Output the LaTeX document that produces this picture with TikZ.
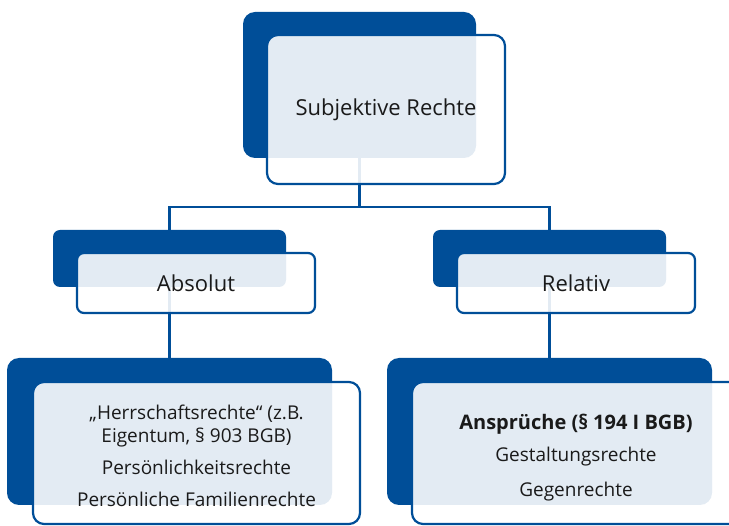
\documentclass[tikz,border=0pt]{standalone}
\usepackage{fontspec}
\setmainfont{Open Sans}
\usetikzlibrary{backgrounds}
\definecolor{uniblue}{RGB}{0,78,152}
\definecolor{txt}{RGB}{26,26,26}
\begin{document}
\begin{tikzpicture}[x=1pt,y=-1pt,
  backbox/.style={fill=uniblue, draw=none, inner sep=0pt, outer sep=0pt, rounded corners=12pt},
  frontbox/.style={fill=white, fill opacity=0.89, text opacity=1, draw=uniblue, line width=2.2pt,
    inner sep=0pt, outer sep=0pt, rounded corners=11pt, text=txt, align=center},
  label/.style={text=txt, align=center, inner sep=0pt},
  conn/.style={draw=uniblue, line width=2.2pt},
  big/.style={font=\fontsize{22}{26}\selectfont},
  small/.style={font=\fontsize{19}{23}\selectfont}
]
\useasboundingbox (0,0) rectangle (729,526);
\clip (0,0) rectangle (729,526);

% dark back boxes
\node[backbox, minimum width=233pt, minimum height=146pt] (topD) at (359.5,85) {};
\node[backbox, rounded corners=7pt, minimum width=233pt, minimum height=57pt] (absD) at (169.5,258.5) {};
\node[backbox, rounded corners=7pt, minimum width=233pt, minimum height=57pt] (relD) at (549.5,258.5) {};
\node[backbox, minimum width=325pt, minimum height=147pt] (blD) at (169.5,431.5) {};
\node[backbox, minimum width=325pt, minimum height=147pt] (brD) at (549.5,431.5) {};

% connectors
\begin{pgfonlayer}{background}
\coordinate (hbar) at (0,207);
\draw[conn] (topD.center) -- (topD.center |- hbar) -| (absD.center);
\draw[conn] (topD.center |- hbar) -| (relD.center);
\draw[conn] (absD.center) -- (blD.center);
\draw[conn] (relD.center) -- (brD.center);
\end{pgfonlayer}

% front boxes
\node[frontbox, big, minimum width=238pt, minimum height=149pt] (topF) at (386,109.5) {Subjektive Rechte};
\node[frontbox, big, rounded corners=7pt, minimum width=238pt, minimum height=60pt] (absF) at (196,283) {Absolut};
\node[frontbox, big, rounded corners=7pt, minimum width=238pt, minimum height=60pt] (relF) at (576,283) {Relativ};
\node[frontbox, minimum width=327pt, minimum height=142pt] (blF) at (196.5,453) {};
\node[frontbox, minimum width=328pt, minimum height=142pt] (brF) at (576,453) {};

% texts of the lower boxes
\node[label, small] (blT) at (196.5,456)
  {„Herrschaftsrechte“ (z.B.\\Eigentum, § 903 BGB)\\[9pt]Persönlichkeitsrechte\\[9pt]Persönliche Familienrechte};
\node[label, small] (brT) at (576,458)
  {{\fontsize{20}{23}\selectfont\bfseries Ansprüche (§ 194 I BGB)}\\[9pt]Gestaltungsrechte\\[12pt]Gegenrechte};
\end{tikzpicture}
\end{document}
